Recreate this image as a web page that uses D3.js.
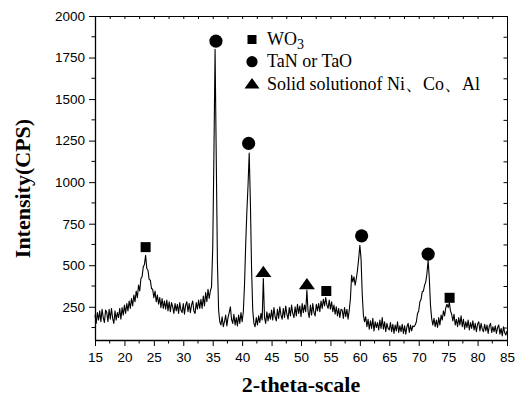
<!DOCTYPE html>
<html><head><meta charset="utf-8">
<script src="https://cdn.jsdelivr.net/npm/d3@7"></script>
<style>body{margin:0;background:#fff}svg{display:block}</style>
</head><body>
<svg id="c" width="516" height="398"></svg>
<script>
// 2-theta sampling (degrees), start / step of the measured scan
const thetaStart = 15.0, thetaStep = 0.2;
// Intensity (CPS), one row = 2 degrees
const intensity = [
 200,150,215,170,225,160,235,185,155,230,
 215,160,235,175,240,180,150,225,170,215,
 185,240,175,245,200,260,210,270,225,285,
 240,300,255,320,280,345,305,380,345,420,
 430,490,505,560,480,470,415,410,360,355,
 305,345,280,320,265,305,245,300,240,285,
 235,290,225,280,220,275,250,210,270,225,
 265,210,275,230,215,270,205,260,280,220,
 270,215,260,285,225,210,275,235,290,240,
 295,240,315,255,335,280,355,300,345,370,
 600,1150,1800,1150,520,230,160,140,190,130,
 160,200,135,185,215,250,175,150,205,140,
 185,135,200,150,215,160,220,380,620,820,
 980,1175,880,480,230,150,130,185,140,195,
 155,210,170,420,185,150,220,165,210,175,
 230,170,245,190,165,235,180,250,200,175,
 240,185,255,205,175,245,195,260,210,185,
 250,195,265,210,255,190,270,215,260,220,
 350,220,185,260,200,270,215,195,265,225,
 270,220,285,240,295,255,305,260,240,290,
 235,280,220,260,205,250,195,240,185,235,
 230,180,245,190,235,175,230,300,440,400,
 430,380,420,470,540,620,540,330,200,160,
 190,130,175,115,165,120,180,105,160,125,
 155,110,170,120,185,115,160,100,150,120,
 110,155,100,145,90,140,105,160,95,135,
 100,145,90,135,85,130,150,95,140,105,
 135,130,140,160,210,225,280,295,340,345,
 380,400,450,530,420,260,180,140,180,130,
 170,125,185,140,200,170,225,195,245,265,
 245,275,225,205,165,205,140,175,130,185,
 140,195,130,175,115,160,125,170,110,155,
 120,165,110,150,100,145,160,105,150,115,
 100,145,105,140,90,135,150,95,130,100,
 135,90,125,140,85,120,75,130,95,80,
 105
];
// Phase markers on peaks
const markerTheta = [23.6, 35.55, 41.1, 43.6, 51.0, 54.3, 60.3, 71.6, 75.25];
const markerCps   = [609, 1849, 1233, 461, 387, 345, 677, 567, 304];
const markerPhase = ["sq","ci","ci","tr","tr","sq","ci","ci","sq"];
// Legend
const legendPhase = ["sq","ci","tr"];
const legendLabels = [["WO","3"],["TaN or TaO",""],["Solid solutionof Ni、Co、Al",""]];
// Axis ticks
const xTicks = [15,20,25,30,35,40,45,50,55,60,65,70,75,80,85];
const yTicks = [250,500,750,1000,1250,1500,1750,2000];

const data = intensity.map((v,i)=>({t: thetaStart + i*thetaStep, v}));

const svg = d3.select("#c");
const L=95, R=507, T=16, B=340;
const x = d3.scaleLinear().domain([15,85]).range([L,R]);
const y = d3.scaleLinear().domain([50,2000]).range([B,T]);

const numFont = "Liberation Sans, Arial, sans-serif";
const serif = "Liberation Serif, Times New Roman, serif";

const xMinor = d3.range(17.5, 85, 5);
const yMinor = d3.range(125, 2000, 250);

// bottom axis
const gx = svg.append("g").attr("transform",`translate(0,${B})`)
  .call(d3.axisBottom(x).tickValues(xTicks).tickSize(6).tickSizeOuter(0).tickFormat(d3.format("d")));
gx.append("g").selectAll("line").data(xMinor).join("line")
  .attr("x1",d=>x(d)).attr("x2",d=>x(d)).attr("y1",0).attr("y2",3.5).attr("stroke","#000");
// left axis
const gy = svg.append("g").attr("transform",`translate(${L},0)`)
  .call(d3.axisLeft(y).tickValues(yTicks).tickSize(6).tickSizeOuter(0).tickFormat(d3.format("d")));
gy.append("g").selectAll("line").data(yMinor).join("line")
  .attr("y1",d=>y(d)).attr("y2",d=>y(d)).attr("x1",0).attr("x2",-3.5).attr("stroke","#000");
[gx,gy].forEach(g=>{
  g.select(".domain").attr("stroke","#000").attr("stroke-width",1.3);
  g.selectAll(".tick line").attr("stroke","#000");
  g.selectAll(".tick text").attr("font-family",numFont).attr("font-size",13.5).attr("fill","#000");
});
gx.selectAll(".tick text").attr("dy","0.95em");
gy.selectAll(".tick text").attr("dx","-1");

// top axis (inward ticks)
const gt = svg.append("g").attr("transform",`translate(0,${T})`)
  .call(d3.axisTop(x).tickValues(d3.range(15,85.1,2.5)).tickSize(-3).tickSizeOuter(0).tickFormat(""));
// right axis (inward ticks)
const gr = svg.append("g").attr("transform",`translate(${R},0)`)
  .call(d3.axisRight(y).tickValues(d3.range(125,2000.1,125)).tickSize(-3.5).tickSizeOuter(0).tickFormat(""));
[gt,gr].forEach(g=>{
  g.select(".domain").attr("stroke","#000").attr("stroke-width",1);
  g.selectAll(".tick line").attr("stroke","#000");
});

// trace
const line = d3.line().x(d=>x(d.t)).y(d=>y(d.v));
svg.append("path").datum(data).attr("d",line)
  .attr("fill","none").attr("stroke","#000").attr("stroke-width",1.1).attr("stroke-linejoin","round");

// marker shapes
function shape(g, kind, cx, cy, s){
  if(kind==="sq") g.append("rect").attr("x",cx-s.sq/2).attr("y",cy-s.sq/2).attr("width",s.sq).attr("height",s.sq).attr("fill","#000");
  else if(kind==="ci") g.append("circle").attr("cx",cx).attr("cy",cy).attr("r",s.ci).attr("fill","#000");
  else g.append("path").attr("d",`M${cx-s.tr},${cy+s.tr*0.65}L${cx+s.tr},${cy+s.tr*0.65}L${cx},${cy-s.tr*0.75}Z`).attr("fill","#000");
}
const mg = svg.append("g");
markerTheta.forEach((t,i)=> shape(mg, markerPhase[i], x(t), y(markerCps[i]), {sq:10, ci:6.6, tr:8}));

// legend
const lg = svg.append("g");
const legY = [39.5, 61.7, 83.5];
const legBase = [45, 67, 89.5];
legendPhase.forEach((k,i)=>{
  shape(lg, k, 252, legY[i], {sq:9, ci:5.6, tr:7.5});
  const t = lg.append("text").attr("x",267).attr("y",legBase[i])
    .attr("font-family",serif).attr("font-size",18).attr("fill","#000");
  t.append("tspan").text(legendLabels[i][0]);
  if(legendLabels[i][1]) t.append("tspan").attr("dy",3.5).attr("font-size",14).text(legendLabels[i][1]);
});

// axis titles
svg.append("text").attr("x",301).attr("y",392).attr("text-anchor","middle")
  .attr("font-family",serif).attr("font-weight","bold").attr("font-size",22).text("2-theta-scale");
svg.append("text").attr("transform","translate(30,188.5) rotate(-90)").attr("text-anchor","middle")
  .attr("font-family",serif).attr("font-weight","bold").attr("font-size",22).text("Intensity(CPS)");
</script>
</body></html>
